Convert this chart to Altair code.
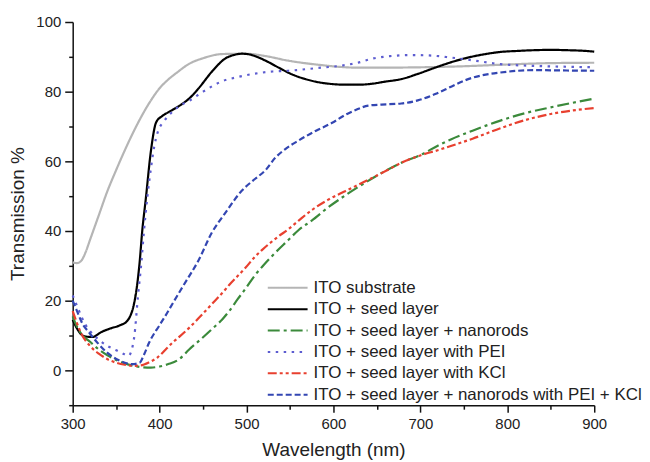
import altair as alt
import pandas as pd

# ---- data ----
series_names = [
    "ITO substrate",
    "ITO + seed layer",
    "ITO + seed layer + nanorods",
    "ITO + seed layer with PEI",
    "ITO + seed layer with KCl",
    "ITO + seed layer + nanorods with PEI + KCl",
]
colors = ["#b5b5b5", "#000000", "#3b8a3b", "#5c5cd0", "#e8402f", "#3346b2"]
dashes = [[1, 0], [1, 0], [12, 4, 3, 4], [2.5, 5.5], [9, 3, 3, 3, 3, 3], [6, 3]]

wl_sub = [300, 305, 310, 315, 320, 330, 340, 350, 360, 370, 380, 390, 400, 410, 420, 434, 450, 472, 499, 520, 548, 580, 628, 660, 700, 750, 800, 850, 900]
t_sub = [31, 30.8, 31.5, 34, 37.5, 44.5, 51.5, 57.5, 63.2, 68.5, 73.3, 77.5, 81, 83.5, 85.5, 88, 89.6, 90.8, 90.9, 90.3, 88.9, 87.8, 86.9, 86.9, 87, 87.3, 87.8, 88.2, 88.3]

wl_seed = [300, 305, 310, 315, 323, 333, 343, 355, 362, 366, 370, 373, 377, 380, 384, 390, 396, 403, 410, 415, 426, 436, 445, 461, 476, 485, 495, 505, 514, 525, 537, 552, 568, 583, 598, 614, 628, 645, 660, 678, 697, 717, 736, 755, 775, 792, 812, 830, 850, 870, 890, 900]
t_seed = [14.5, 12, 10.3, 9.7, 9.6, 11, 12, 13, 14, 15.5, 18.5, 22.5, 31, 40, 49, 63, 71.2, 73, 74.1, 74.8, 76.5, 78.5, 81, 86, 89.6, 90.5, 90.9, 90.6, 89.8, 88.5, 86.9, 85, 83.6, 82.7, 82.2, 82, 82, 82.3, 82.9, 83.6, 85.1, 86.9, 88.5, 89.8, 90.8, 91.4, 91.7, 91.9, 92, 91.9, 91.7, 91.5]

wl_nr = [300, 305, 310, 320, 330, 340, 350, 360, 370, 380, 390, 400, 410, 422, 434, 450, 460, 472, 480, 490, 499, 510, 520, 530, 548, 560, 575, 594, 614, 636, 660, 680, 700, 720, 735, 760, 792, 820, 850, 875, 900]
t_nr = [15.5, 12.5, 10.5, 8.2, 6, 4.3, 3, 2, 1.3, 0.9, 0.8, 1.1, 1.8, 3.1, 6, 9.5, 11.8, 14.6, 17, 20.5, 23.5, 27.4, 30.3, 33, 37.4, 40.3, 43, 46.8, 50.3, 53.8, 57.3, 59.8, 61.8, 64.5, 66.3, 68.8, 71.7, 73.8, 75.5, 76.8, 78]

wl_pei = [300, 305, 310, 315, 320, 330, 340, 350, 358, 364, 368, 371, 375, 379, 382, 386, 390, 394, 398, 405, 415, 425, 434, 450, 472, 490, 510, 530, 548, 570, 586, 600, 615, 628, 645, 665, 690, 710, 735, 760, 792, 831, 860, 900]
t_pei = [21.5, 18.5, 15.5, 13, 11.3, 8.8, 7, 5.8, 4.8, 4.2, 6, 10, 21, 31, 40, 50, 58, 64.5, 68.5, 71.5, 74.3, 76.2, 77.4, 80, 83, 84.2, 85.2, 85.8, 86, 86.5, 86.9, 87.2, 87.7, 88.3, 89.5, 90.2, 90.5, 90.4, 89.8, 89, 87.9, 87.4, 87.2, 87]

wl_kcl = [300, 305, 310, 320, 330, 340, 350, 360, 370, 378, 388, 398, 407, 415, 422, 434, 445, 460, 472, 480, 499, 510, 518, 537, 548, 560, 575, 594, 614, 636, 660, 680, 700, 720, 735, 760, 792, 820, 850, 875, 900]
t_kcl = [17, 13.5, 10.5, 7, 4.8, 3.2, 2.2, 1.6, 1.3, 1.4, 2.3, 3.8, 6, 8, 9.5, 12.2, 15, 19, 22.2, 24.5, 29.5, 32.7, 34.6, 38.5, 40.5, 43, 46, 49, 51.5, 54.2, 57.2, 59.8, 61.7, 63.2, 64.4, 66.5, 69.5, 71.8, 73.6, 74.6, 75.3]

wl_pk = [300, 305, 310, 320, 330, 340, 350, 360, 368, 377, 382, 388, 400, 407, 415, 426, 445, 460, 475, 495, 510, 522, 533, 545, 560, 580, 598, 615, 628, 640, 655, 678, 697, 717, 736, 755, 775, 792, 812, 831, 860, 900]
t_pk = [20, 17, 14, 10.5, 7.5, 5, 3.3, 2.2, 1.8, 2.2, 4.5, 8, 13, 15.8, 19.2, 23.8, 31.7, 39.5, 45, 51.7, 55, 57.5, 61, 63.6, 66, 68.8, 71, 73.5, 75, 76, 76.3, 76.6, 77.5, 79.3, 81.5, 83.6, 84.9, 85.5, 86, 86.2, 86.1, 86]

all_wl = [wl_sub, wl_seed, wl_nr, wl_pei, wl_kcl, wl_pk]
all_t = [t_sub, t_seed, t_nr, t_pei, t_kcl, t_pk]

rows = []
for i, (name, wls, ts) in enumerate(zip(series_names, all_wl, all_t)):
    for w, t in zip(wls, ts):
        rows.append({"series": name, "order": i, "wl": w, "T": t})
df = pd.DataFrame(rows)

FONT = "Liberation Sans"

x_axis = alt.Axis(
    values=list(range(300, 901, 50)),
    labelExpr="datum.value % 100 === 0 ? datum.label : ''",
    tickSize={"condition": {"test": "datum.value % 100 === 0", "value": 7}, "value": 4},
    title="Wavelength (nm)",
    grid=False, labelFlush=False,
    labelFontSize=15, titleFontSize=19, titleFontWeight="normal",
    labelFont=FONT, titleFont=FONT, labelColor="#222222", titleColor="#222222",
    domainColor="#111111", domainWidth=1.5, tickColor="#111111", tickWidth=1.5,
    labelPadding=4, titlePadding=10,
)
y_axis = alt.Axis(
    values=list(range(-10, 101, 10)),
    labelExpr="datum.value % 20 === 0 && datum.value >= 0 ? datum.label : ''",
    tickSize={"condition": {"test": "datum.value % 20 === 0", "value": 8}, "value": 4},
    title="Transmission %",
    grid=False, labelFlush=False,
    labelFontSize=15, titleFontSize=19, titleFontWeight="normal",
    labelFont=FONT, titleFont=FONT, labelColor="#222222", titleColor="#222222",
    domainColor="#111111", domainWidth=1.5, tickColor="#111111", tickWidth=1.5,
    labelPadding=4, titlePadding=8,
)

legend = alt.Legend(
    title=None, orient="none", legendX=195, legendY=256,
    symbolType="M-1,0H3", symbolSize=400, symbolStrokeWidth=2,
    labelFontSize=17, labelFont=FONT, labelColor="#222222", labelLimit=500,
    labelOffset=25, rowPadding=2.5,
)

chart = alt.Chart(df).mark_line(interpolate="monotone", strokeWidth=2.2).encode(
    x=alt.X("wl:Q", scale=alt.Scale(domain=[300, 900], nice=False, zero=False), axis=x_axis),
    y=alt.Y("T:Q", scale=alt.Scale(domain=[-10, 100], nice=False, zero=False), axis=y_axis),
    color=alt.Color("series:N", scale=alt.Scale(domain=series_names, range=colors), legend=legend),
    strokeDash=alt.StrokeDash("series:N", scale=alt.Scale(domain=series_names, range=dashes), legend=legend),
    order=alt.Order("wl:Q"),
    detail="series:N",
).properties(
    width=524, height=385,
    autosize=alt.AutoSizeParams(type="none"),
    padding={"left": 65, "top": 13, "right": 48, "bottom": 54},
).configure_view(stroke=None)

chart.save("out.html", embed_options={"renderer": "svg", "actions": False})
